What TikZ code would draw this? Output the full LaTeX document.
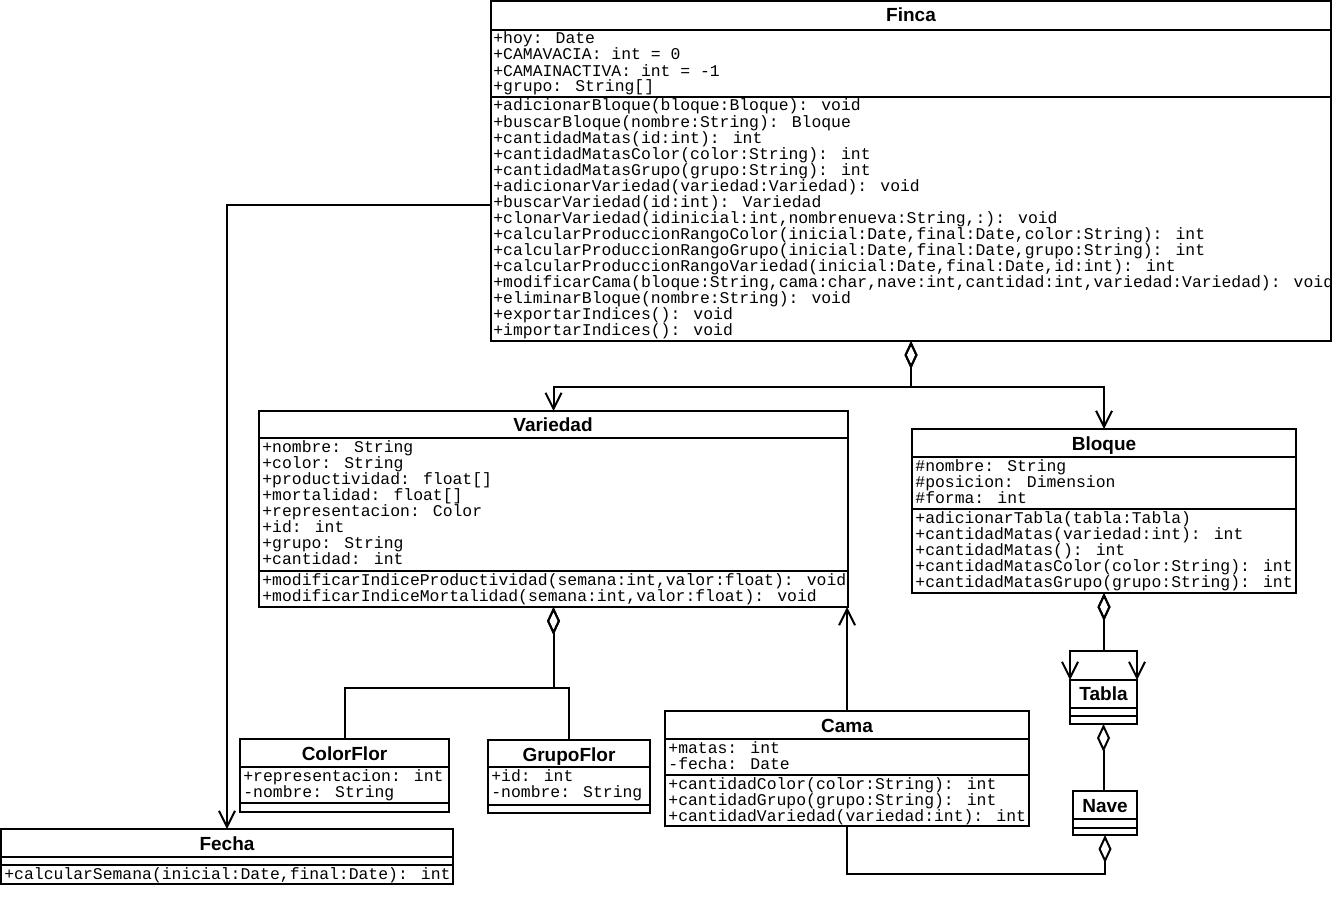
\documentclass[tikz,border=0pt]{standalone}
\usepackage{fontspec}
\usetikzlibrary{arrows.meta}
\newfontfamily\titlefont{Liberation Sans}
\newfontfamily\membfont{Liberation Mono}
\tikzset{
  cls/.style={draw, line width=1pt, anchor=north west, inner sep=0pt, outer sep=0pt},
  ttl/.style={anchor=base, inner sep=0pt, font=\titlefont\bfseries\fontsize{9.5}{11}\selectfont},
  memb/.style={anchor=base west, inner sep=0pt, font=\membfont\fontsize{8.2}{8}\selectfont},
  sep/.style={line width=1pt},
  assoc/.style={line width=1pt, -{Straight Barb[length=8pt,width=8pt]}},
  agg/.style={line width=1pt, {Diamond[open,length=14pt,width=6.5pt]}-},
  aggto/.style={line width=1pt, {Diamond[open,length=14pt,width=6.5pt]}-{Straight Barb[length=8pt,width=8pt]}}
}
% one text line per member, 16 units apart below a separator
\newcommand{\members}[4]{%
  \foreach \m [count=\i] in {#4}
    \node[memb] (#1\i) at (#2,#3-2+16*\i) {\m};}

\begin{document}
\begin{tikzpicture}[x=0.5pt,y=-0.5pt]
   \useasboundingbox (0,0) rectangle (1332,904);
   % Finca
   \node[cls, minimum width=420pt, minimum height=170pt] (finca) at (491,1) {};
   \node[ttl] (finca-t) at (911,22) {Finca};
   \draw[sep] (491,30) -- (1331,30) (491,97) -- (1331,97);
   \begin{scope}
   \clip (491,1) rectangle (1331,341);
   \members{fa}{493}{30}{+hoy: Date, +CAMAVACIA: int = 0, +CAMAINACTIVA: int = -1, {+grupo: String[]}}
   \members{fm}{493}{97}{+adicionarBloque(bloque:Bloque): void, +buscarBloque(nombre:String): Bloque,
     +cantidadMatas(id:int): int, +cantidadMatasColor(color:String): int,
     +cantidadMatasGrupo(grupo:String): int, +adicionarVariedad(variedad:Variedad): void,
     +buscarVariedad(id:int): Variedad, {+clonarVariedad(idinicial:int,nombrenueva:String,:): void},
     {+calcularProduccionRangoColor(inicial:Date,final:Date,color:String): int},
     {+calcularProduccionRangoGrupo(inicial:Date,final:Date,grupo:String): int},
     {+calcularProduccionRangoVariedad(inicial:Date,final:Date,id:int): int},
     {+modificarCama(bloque:String,cama:char,nave:int,cantidad:int,variedad:Variedad): void},
     +eliminarBloque(nombre:String): void, +exportarIndices(): void, +importarIndices(): void}
   \end{scope}
   % Variedad
   \node[cls, minimum width=294.5pt, minimum height=98pt] (variedad) at (259,411) {};
   \node[ttl] (variedad-t) at (553,431) {Variedad};
   \draw[sep] (259,438) -- (848,438) (259,571) -- (848,571);
   \members{va}{262}{438}{+nombre: String, +color: String, {+productividad: float[]}, {+mortalidad: float[]},
     +representacion: Color, +id: int, +grupo: String, +cantidad: int}
   \members{vm}{262}{571}{{+modificarIndiceProductividad(semana:int,valor:float): void},
     {+modificarIndiceMortalidad(semana:int,valor:float): void}}
   % Bloque
   \node[cls, minimum width=192pt, minimum height=82pt] (bloque) at (912,429) {};
   \node[ttl] (bloque-t) at (1104,450) {Bloque};
   \draw[sep] (912,457) -- (1296,457) (912,509) -- (1296,509);
   \members{ba}{915}{457}{\#nombre: String, \#posicion: Dimension, \#forma: int}
   \members{bm}{915}{509}{+adicionarTabla(tabla:Tabla), +cantidadMatas(variedad:int): int, +cantidadMatas(): int,
     +cantidadMatasColor(color:String): int, +cantidadMatasGrupo(grupo:String): int}
   % Tabla
   \node[cls, minimum width=33.5pt, minimum height=22pt] (tabla) at (1070,680) {};
   \node[ttl] (tabla-t) at (1103.5,700) {Tabla};
   \draw[sep] (1070,708) -- (1137,708) (1070,716) -- (1137,716);
   % Nave
   \node[cls, minimum width=32pt, minimum height=22pt] (nave) at (1073,791) {};
   \node[ttl] (nave-t) at (1105,812) {Nave};
   \draw[sep] (1073,819) -- (1137,819) (1073,828) -- (1137,828);
   % Cama
   \node[cls, minimum width=182pt, minimum height=57.5pt] (cama) at (665,711) {};
   \node[ttl] (cama-t) at (847,732) {Cama};
   \draw[sep] (665,739) -- (1029,739) (665,775) -- (1029,775);
   \members{ca}{668}{739}{+matas: int, -fecha: Date}
   \members{cm}{668}{775}{+cantidadColor(color:String): int, +cantidadGrupo(grupo:String): int,
     +cantidadVariedad(variedad:int): int}
   % ColorFlor
   \node[cls, minimum width=104.5pt, minimum height=36.5pt] (colorflor) at (240,739) {};
   \node[ttl] (colorflor-t) at (344.5,760) {ColorFlor};
   \draw[sep] (240,767) -- (449,767) (240,803) -- (449,803);
   \members{cfa}{243}{767}{+representacion: int, -nombre: String}
   % GrupoFlor
   \node[cls, minimum width=81pt, minimum height=36.5pt] (grupoflor) at (488,740) {};
   \node[ttl] (grupoflor-t) at (569,761) {GrupoFlor};
   \draw[sep] (488,767) -- (650,767) (488,805) -- (650,805);
   \members{gfa}{491}{767}{+id: int, -nombre: String}
   % Fecha
   \node[cls, minimum width=226pt, minimum height=27.5pt] (fecha) at (1,829) {};
   \node[ttl] (fecha-t) at (227,850) {Fecha};
   \draw[sep] (1,857) -- (453,857) (1,865) -- (453,865);
   \members{fem}{4}{865}{{+calcularSemana(inicial:Date,final:Date): int}}
   % relations
   \draw[aggto] (finca.south) -- ++(0,46) -| (variedad.north);
   \draw[aggto] (finca.south) -- ++(0,46) -| (bloque.north);
   \draw[assoc] (finca.north west) ++(0,204) -| (fecha.north);
   \draw[agg] (variedad.south) -- ++(0,81) -| (colorflor.north);
   \draw[agg] (variedad.south) -- ++(0,81) -| (grupoflor.north);
   \draw[assoc] (cama.north) -- (cama.north |- variedad.south);
   \draw[aggto] (bloque.south) -- ++(0,58) -| (tabla.north west);
   \draw[aggto] (bloque.south) -- ++(0,58) -| (tabla.north east);
   \draw[agg] (tabla.south) -- (tabla.south |- nave.north);
   \draw[agg] (nave.south) -- ++(0,39) -| (cama.south);
\end{tikzpicture}
\end{document}
